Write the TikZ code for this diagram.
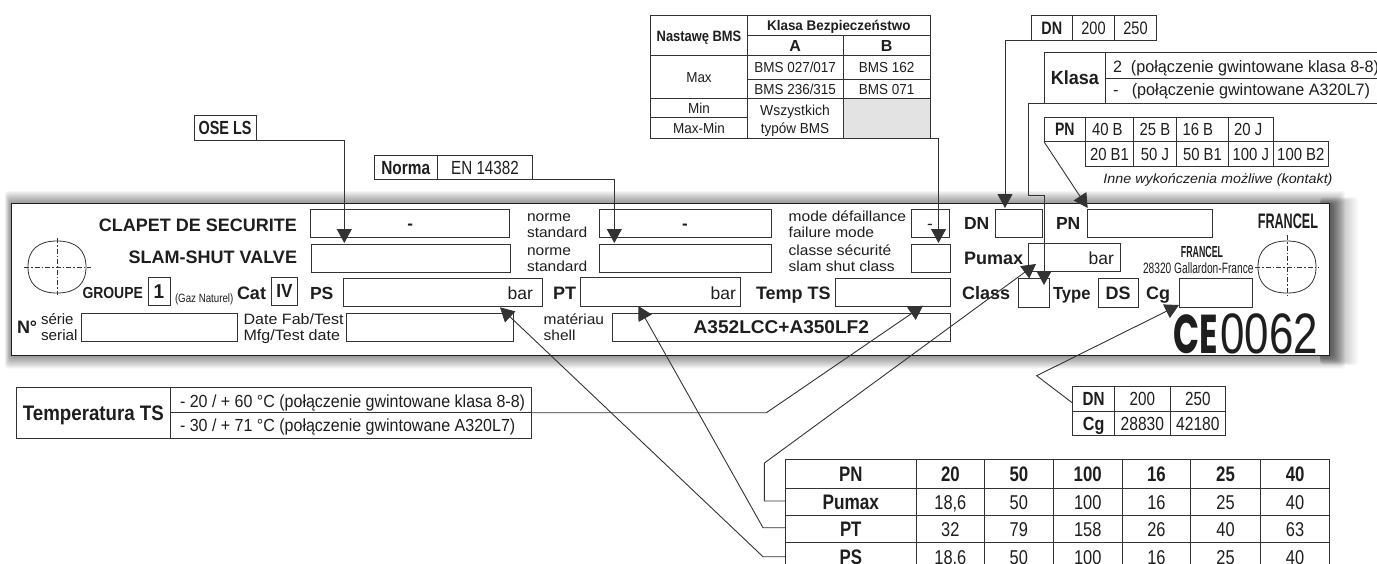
\documentclass[tikz,border=0pt]{standalone}
\usepackage{fontspec}
\setmainfont{Liberation Sans}
\newfontfamily\cefont{Poppins}
\usetikzlibrary{arrows.meta}
\definecolor{ink}{HTML}{1E1E1E}
\definecolor{rule}{HTML}{333333}
\tikzset{
  txt/.style={inner sep=0pt,outer sep=0pt,text=ink},
  cellbox/.style={draw=rule,line width=1pt,inner sep=0pt,outer sep=0pt,text=ink},
  fieldbox/.style={cellbox,fill=white},
  conn/.style={draw=rule,line width=0.9pt},
  arr/.style={conn,-{Triangle[length=14pt,width=15pt]}},
  cross/.style={draw=rule,line width=0.6pt,dash pattern=on 5pt off 2pt on 1.5pt off 2pt},
}
\newcounter{lbn}
\newcommand{\lab}[6]{\stepcounter{lbn}\node[txt,anchor=#1,name=lab\thelbn] at (#2,#3) {\fontsize{#4}{#4}\selectfont\scalebox{#5}[1]{\raisebox{0pt}[.72em][0pt]{#6}}};}
\newcommand{\tcell}[8][]{\stepcounter{lbn}\pgfmathsetmacro\cw{#4-#2}\pgfmathsetmacro\ch{#5-#3}\pgfmathsetmacro\cx{(#4+#2)/2}\pgfmathsetmacro\cy{(#5+#3)/2}\node[cellbox,minimum width=\cw pt,minimum height=\ch pt,name=cell\thelbn,#1] at (\cx,\cy) {\fontsize{#6}{#6}\selectfont\scalebox{#7}[1]{\raisebox{0pt}[.72em][0pt]{#8}}};}
\newcommand{\valveoval}[2]{\draw[draw=rule,line width=0.8pt] (#1-29,#2) .. controls (#1-29,#2-17) and (#1-19,#2-26) .. (#1,#2-26) .. controls (#1+19,#2-26) and (#1+29,#2-17) .. (#1+29,#2) .. controls (#1+29,#2+17) and (#1+19,#2+26) .. (#1,#2+26) .. controls (#1-19,#2+26) and (#1-29,#2+17) .. (#1-29,#2) -- cycle;}
\begin{document}
\begin{tikzpicture}[x=1pt,y=-1pt]
\useasboundingbox (0,0) rectangle (1377,563);
\clip (0,0) rectangle (1377,563);
\fill[white] (0,0) rectangle (1377,563);
% shadow
\foreach \i in {0,...,13}{
  \fill[black,opacity=.035,rounded corners=3pt] (5+.45*\i,191+\i) rectangle (1345-\i,368.5-\i);
  \fill[black,opacity=.028,rounded corners=3pt] (1320,197+.5*\i) rectangle (1358-2*\i,365-.5*\i);
}
% plate
\node[draw=ink,line width=1.8pt,fill=white,inner sep=0pt,outer sep=0pt,minimum width=1318pt,minimum height=152pt] (plate) at (670.4,279.5) {};
% field boxes
\tcell[fieldbox,name=fA]{310.5}{209.3}{509.7}{237.3}{17}{1}{\bfseries -}
\tcell[fieldbox,name=fB]{311}{244}{510}{272}{17}{1}{}
\tcell[fieldbox,name=fC]{599}{209.3}{771}{237.3}{17}{1}{\bfseries -}
\tcell[fieldbox,name=fD]{599}{244}{771}{272}{17}{1}{}
\tcell[fieldbox,name=fE]{911}{209.3}{949}{237.3}{17}{1}{-}
\tcell[fieldbox,name=fF]{911}{244}{950}{272}{17}{1}{}
\tcell[fieldbox,name=fG]{148}{277}{170}{305}{20}{.95}{\bfseries 1}
\tcell[fieldbox,name=fH]{271.4}{277}{297.5}{305}{19}{.9}{\bfseries IV}
\tcell[fieldbox,name=fPS]{343}{278.3}{542}{306.7}{17}{1}{}
\tcell[fieldbox,name=fPT]{580}{277.5}{740.7}{306}{17}{1}{}
\tcell[fieldbox,name=fTS]{835.7}{278.3}{950}{306.7}{17}{1}{}
\tcell[fieldbox,name=fSer]{81}{313.3}{237.5}{341}{17}{1}{}
\tcell[fieldbox,name=fDat]{346.4}{313.3}{513.3}{341}{17}{1}{}
\tcell[fieldbox,name=fMat]{612.7}{313.3}{950}{341}{18.5}{1.03}{\bfseries A352LCC+A350LF2}
\tcell[fieldbox,name=fDN]{995}{209.3}{1042}{237.3}{17}{1}{}
\tcell[fieldbox,name=fPN]{1087}{209.3}{1212}{237.3}{17}{1}{}
\tcell[fieldbox,name=fPu]{1028}{243.5}{1120}{271}{17}{1}{}
\tcell[fieldbox,name=fCl]{1018}{278.3}{1049}{307}{17}{1}{}
\tcell[fieldbox,name=fTy]{1098}{278.3}{1138}{307}{18}{1}{\bfseries DS}
\tcell[fieldbox,name=fCg]{1179}{278.3}{1252}{307}{17}{1}{}
% ovals
\valveoval{57}{267}
\valveoval{1287}{267}
\draw[cross] (24,267) -- (91,267);
\draw[cross] (57,238) -- (57,295);
\draw[cross] (1255,267) -- (1319,267);
\draw[cross] (1287,235) -- (1287,297);
% plate labels
\lab{east}{297}{225}{18}{1}{\bfseries CLAPET DE SECURITE}
\lab{east}{297}{257}{18}{1}{\bfseries SLAM-SHUT VALVE}
\lab{west}{82.5}{293}{16}{.87}{\bfseries GROUPE}
\lab{west}{175}{298}{12}{.81}{(Gaz Naturel)}
\lab{west}{237}{293}{18}{1}{\bfseries Cat}
\lab{west}{310}{293}{17.5}{1}{\bfseries PS}
\lab{east}{533}{293}{17.5}{1}{bar}
\lab{west}{17}{327}{18}{1}{\bfseries N°}
\lab{west}{41}{319}{15}{1}{série}
\lab{west}{41}{335}{15}{1.02}{serial}
\lab{west}{243.6}{319}{15}{1.07}{Date Fab/Test}
\lab{west}{243.6}{335}{15}{1.07}{Mfg/Test date}
\lab{west}{527}{216}{14.5}{1.07}{norme}
\lab{west}{527}{232}{14.5}{1.07}{standard}
\lab{west}{527}{250}{14.5}{1.07}{norme}
\lab{west}{527}{266}{14.5}{1.07}{standard}
\lab{west}{788.7}{216}{14.5}{1.07}{mode défaillance}
\lab{west}{788.7}{232}{14.5}{1.07}{failure mode}
\lab{west}{788.7}{250}{14.5}{1.07}{classe sécurité}
\lab{west}{788.7}{266}{14.5}{1.07}{slam shut class}
\lab{west}{553}{293}{18}{1}{\bfseries PT}
\lab{east}{736}{293}{17.5}{1}{bar}
\lab{west}{756}{293}{18}{1}{\bfseries Temp TS}
\lab{west}{543.7}{319}{14.5}{1.07}{matériau}
\lab{west}{543.7}{335}{14.5}{1.07}{shell}
\lab{west}{964}{223}{17.5}{1}{\bfseries DN}
\lab{west}{1056}{223}{17.5}{1}{\bfseries PN}
\lab{west}{964}{258}{18}{1}{\bfseries Pumax}
\lab{east}{1114}{258}{17.5}{1}{bar}
\lab{west}{962}{293}{18}{1}{\bfseries Class}
\lab{west}{1053}{293}{17.5}{.95}{\bfseries Type}
\lab{west}{1146}{293}{18}{1}{\bfseries Cg}
\lab{east}{1318}{221}{21}{.6}{\bfseries FRANCEL}
\lab{center}{1202}{252}{16}{.55}{\bfseries FRANCEL}
\lab{west}{1143}{268}{15}{.68}{28320 Gallardon-France}
\lab{east}{1318}{332.5}{57}{1}{{\cefont\bfseries\scalebox{.6}[.96]{CE}}\hspace{2pt}\scalebox{.77}[1]{0062}}
% BMS table
\tcell[name=bmsN]{650.7}{15.7}{747.3}{55.7}{15}{.86}{\bfseries Nastawę BMS}
\tcell[name=bmsK]{747.3}{15.7}{930.3}{35.7}{14}{.96}{\bfseries Klasa Bezpieczeństwo}
\tcell[name=bmsA]{747.3}{35.7}{843}{55.7}{16}{1}{\bfseries A}
\tcell[name=bmsB]{843}{35.7}{930.3}{55.7}{16}{1}{\bfseries B}
\tcell[name=bmsM]{650.7}{55.7}{747.3}{98.3}{14.5}{.93}{Max}
\tcell[name=bmsA1]{747.3}{55.7}{843}{79.3}{14.5}{.93}{BMS 027/017}
\tcell[name=bmsB1]{843}{55.7}{930.3}{79.3}{14.5}{.93}{BMS 162}
\tcell[name=bmsA2]{747.3}{79.3}{843}{98.3}{14.5}{.93}{BMS 236/315}
\tcell[name=bmsB2]{843}{79.3}{930.3}{98.3}{14.5}{.93}{BMS 071}
\tcell[name=bmsMi]{650.7}{98.3}{747.3}{117.7}{14.5}{.93}{Min}
\tcell[name=bmsMM]{650.7}{117.7}{747.3}{138}{14.5}{.93}{Max-Min}
\tcell[name=bmsW]{747.3}{98.3}{843}{138}{13.5}{1}{}
\tcell[name=bmsG,fill=black!11]{843}{98.3}{930.3}{138}{13.5}{1}{}
\lab{center}{795}{110}{14.5}{.96}{Wszystkich}
\lab{center}{795}{128.5}{14.5}{.93}{typów BMS}
% DN table top
\tcell[name=dnH]{1031}{15.7}{1072.7}{40.3}{18}{.8}{\bfseries DN}
\tcell{1072.7}{15.7}{1114.3}{40.3}{18}{.81}{200}
\tcell{1114.3}{15.7}{1156.7}{40.3}{18}{.81}{250}
% Klasa table
\tcell[name=klasaH]{1044}{52.3}{1105.7}{103}{19}{.95}{\bfseries Klasa}
\tcell{1105.7}{52.3}{1395}{78.3}{16}{1}{}
\tcell{1105.7}{78.3}{1395}{103}{16}{1}{}
\lab{west}{1113}{67}{16.5}{.98}{2\ \ (połączenie gwintowane klasa 8-8)}
\lab{west}{1113}{90}{16.5}{.98}{-\ \ \ (połączenie gwintowane A320L7)}
% PN table top
\tcell[name=pnH]{1044}{117.3}{1085.7}{141.7}{18}{.78}{\bfseries PN}
\tcell{1085.7}{117.3}{1133.3}{141.7}{17.5}{.85}{40 B\hspace{5pt}}
\tcell{1133.3}{117.3}{1176.7}{141.7}{17.5}{.85}{25 B}
\tcell{1176.7}{117.3}{1228.3}{141.7}{17.5}{.85}{16 B\hspace{11pt}}
\tcell{1228.3}{117.3}{1273.3}{141.7}{17.5}{.85}{20 J\hspace{6pt}}
\tcell{1085.7}{141.7}{1133.3}{166}{17.5}{.85}{20 B1}
\tcell{1133.3}{141.7}{1176.7}{166}{17.5}{.85}{50 J}
\tcell{1176.7}{141.7}{1228.3}{166}{17.5}{.85}{50 B1}
\tcell{1228.3}{141.7}{1273.3}{166}{17.5}{.85}{100 J}
\tcell{1273.3}{141.7}{1328.3}{166}{17.5}{.85}{100 B2}
\lab{center}{1218}{179}{13.5}{1.06}{\itshape Inne wykończenia możliwe (kontakt)}
% OSE / Norma
\tcell[name=ose]{194}{115.7}{256}{140}{19}{.76}{\bfseries OSE LS}
\tcell[name=normaH]{374}{155.7}{437.5}{179.3}{19}{.81}{\bfseries Norma}
\tcell[name=normaV]{437.5}{155.7}{532.5}{179.3}{19}{.8}{EN 14382}
% Temperature table
\tcell[name=tempH]{16}{387.7}{170.7}{438.3}{21}{.89}{\bfseries Temperatura TS}
\tcell[name=tempA]{170.7}{387.7}{531}{412.7}{17}{.95}{}
\tcell[name=tempB]{170.7}{412.7}{531}{438.3}{17}{.95}{}
\lab{west}{180}{401}{17.5}{.915}{- 20 / + 60 °C (połączenie gwintowane klasa 8-8)}
\lab{west}{180}{425}{17.5}{.915}{- 30 / + 71 °C (połączenie gwintowane A320L7)}
% Cg table
\tcell[name=dnC]{1072.5}{386.7}{1114.8}{411}{19}{.8}{\bfseries DN}
\tcell{1114.8}{386.7}{1170}{411}{19}{.8}{200}
\tcell{1170}{386.7}{1225.8}{411}{19}{.8}{250}
\tcell{1072.5}{411}{1114.8}{435.7}{19}{.85}{\bfseries Cg}
\tcell{1114.8}{411}{1170}{435.7}{19}{.82}{28830}
\tcell{1170}{411}{1225.8}{435.7}{19}{.82}{42180}
% Big table
\tcell{785.5}{459}{916}{488.3}{21}{.8}{\bfseries PN}
\tcell{916}{459}{984.7}{488.3}{21}{.8}{\bfseries 20}
\tcell{984.7}{459}{1053}{488.3}{21}{.8}{\bfseries 50}
\tcell{1053}{459}{1122.5}{488.3}{21}{.8}{\bfseries 100}
\tcell{1122.5}{459}{1190.4}{488.3}{21}{.8}{\bfseries 16}
\tcell{1190.4}{459}{1260.7}{488.3}{21}{.8}{\bfseries 25}
\tcell{1260.7}{459}{1329.5}{488.3}{21}{.8}{\bfseries 40}
\tcell[name=rowPu]{785.5}{488.3}{916}{515.3}{21}{.82}{\bfseries Pumax}
\tcell{916}{488.3}{984.7}{515.3}{20}{.82}{18,6}
\tcell{984.7}{488.3}{1053}{515.3}{20}{.82}{50}
\tcell{1053}{488.3}{1122.5}{515.3}{20}{.82}{100}
\tcell{1122.5}{488.3}{1190.4}{515.3}{20}{.82}{16}
\tcell{1190.4}{488.3}{1260.7}{515.3}{20}{.82}{25}
\tcell{1260.7}{488.3}{1329.5}{515.3}{20}{.82}{40}
\tcell[name=rowPT]{785.5}{515.3}{916}{542.3}{21}{.8}{\bfseries PT}
\tcell{916}{515.3}{984.7}{542.3}{20}{.82}{32}
\tcell{984.7}{515.3}{1053}{542.3}{20}{.82}{79}
\tcell{1053}{515.3}{1122.5}{542.3}{20}{.82}{158}
\tcell{1122.5}{515.3}{1190.4}{542.3}{20}{.82}{26}
\tcell{1190.4}{515.3}{1260.7}{542.3}{20}{.82}{40}
\tcell{1260.7}{515.3}{1329.5}{542.3}{20}{.82}{63}
\tcell[name=rowPS]{785.5}{542.3}{916}{572}{21}{.8}{\bfseries PS}
\tcell{916}{542.3}{984.7}{572}{20}{.82}{18,6}
\tcell{984.7}{542.3}{1053}{572}{20}{.82}{50}
\tcell{1053}{542.3}{1122.5}{572}{20}{.82}{100}
\tcell{1122.5}{542.3}{1190.4}{572}{20}{.82}{16}
\tcell{1190.4}{542.3}{1260.7}{572}{20}{.82}{25}
\tcell{1260.7}{542.3}{1329.5}{572}{20}{.82}{40}
% connector anchors
\coordinate (tOse) at (344.3,243);
\coordinate (tNorma) at (614.3,243);
\coordinate (tBms) at (938.5,243);
\coordinate (tDN) at (1005,208);
\coordinate (kA) at (1028,195);
\coordinate (tKlasa) at (1044,285);
\coordinate (tPN) at (1087.7,208);
\coordinate (tCg) at (1179,305);
\coordinate (bCg) at (1036.7,375.7);
\coordinate (sCg) at (1072.5,403);
\coordinate (tPS) at (500,307.3);
\coordinate (bPS) at (763,556.7);
\coordinate (tPT) at (638.3,306);
\coordinate (bPT) at (763,527.7);
\coordinate (tPu) at (1036,264);
\coordinate (bPu) at (764.4,463);
\coordinate (tTS) at (923,305.7);
\coordinate (bTS) at (766.4,412.7);
\coordinate (sPu) at (785.5,501);
\coordinate (sPT) at (785.5,527.7);
\coordinate (sPS) at (785.5,556.7);
% connectors
\draw[arr] (ose.south east) -| (tOse);
\draw[arr] (normaV.south east) -| (tNorma);
\draw[arr] (bmsG.south east) -| (tBms);
\draw[arr] (dnH.south west) -| (tDN);
\draw[arr] (klasaH.south west) -| (kA) -| (tKlasa);
\draw[arr] (pnH.south west) -- (tPN);
\draw[arr] (sCg) -- (bCg) -- (tCg);
\draw[arr] (tempA.south east) -- (bTS) -- (tTS);
\draw[arr] (sPu) -| (bPu) -- (tPu);
\draw[arr] (sPT) -- (bPT) -- (tPT);
\draw[arr] (sPS) -- (bPS) -- (tPS);
\end{tikzpicture}
\end{document}
